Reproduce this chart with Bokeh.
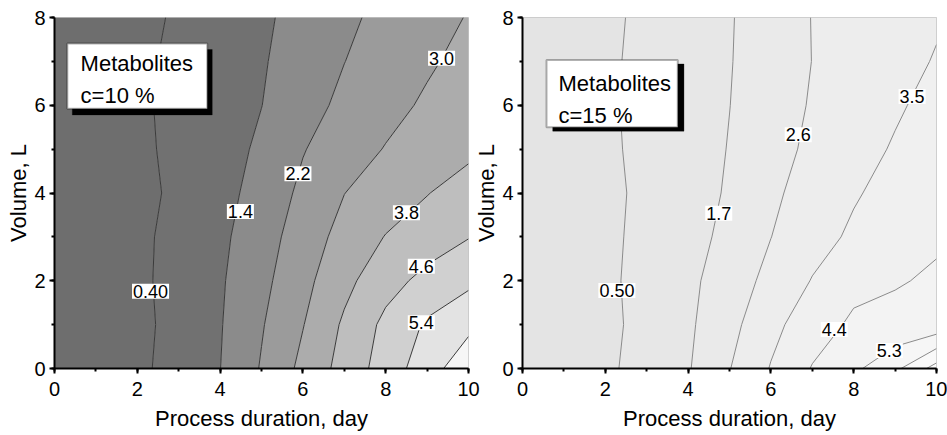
import numpy as np
from bokeh.plotting import figure
from bokeh.models import Range1d, SingleIntervalTicker, Label, BoxAnnotation
from bokeh.layouts import row
from bokeh.embed import file_html
from bokeh.resources import INLINE

# ---------------- data ----------------
days = [0, 1, 2, 3, 4, 5, 6, 7, 8, 9, 10]          # process duration, day
volume = [0, 1, 2, 3, 4, 5, 6, 7, 8]               # volume, L

# metabolites, c = 10 %  (rows: volume 0..8, columns: day 0..10)
z_c10 = [
    [0.00, 0.09, 0.18, 0.79, 1.39, 2.26, 3.20, 4.09, 4.96, 5.84, 6.74],
    [0.00, 0.07, 0.13, 0.74, 1.35, 2.14, 2.97, 3.92, 4.79, 5.51, 6.00],
    [0.00, 0.10, 0.19, 0.75, 1.31, 1.99, 2.77, 3.58, 4.31, 4.83, 5.23],
    [0.00, 0.09, 0.18, 0.71, 1.24, 1.85, 2.58, 3.27, 3.83, 4.20, 4.57],
    [0.00, 0.05, 0.10, 0.61, 1.12, 1.71, 2.36, 2.99, 3.38, 3.77, 4.16],
    [0.00, 0.10, 0.20, 0.63, 1.06, 1.54, 2.16, 2.61, 3.04, 3.33, 3.62],
    [0.00, 0.12, 0.25, 0.63, 1.01, 1.39, 1.91, 2.37, 2.74, 3.12, 3.50],
    [0.00, 0.11, 0.22, 0.59, 0.96, 1.33, 1.76, 2.19, 2.55, 2.89, 3.24],
    [0.00, 0.07, 0.14, 0.52, 0.90, 1.27, 1.66, 2.05, 2.40, 2.72, 3.04],
]
# metabolites, c = 15 %
z_c15 = [
    [0.00, 0.14, 0.28, 0.95, 1.63, 2.57, 3.55, 4.45, 5.11, 5.99, 7.45],
    [0.00, 0.10, 0.20, 0.88, 1.56, 2.33, 3.25, 3.99, 4.55, 4.62, 4.70],
    [0.00, 0.13, 0.27, 0.88, 1.50, 2.15, 2.85, 3.54, 4.15, 4.34, 4.50],
    [0.00, 0.12, 0.25, 0.81, 1.36, 1.95, 2.59, 3.18, 3.64, 3.97, 4.30],
    [0.00, 0.11, 0.23, 0.75, 1.27, 1.81, 2.44, 2.95, 3.42, 3.78, 4.12],
    [0.00, 0.15, 0.30, 0.78, 1.26, 1.74, 2.29, 2.77, 3.18, 3.58, 3.93],
    [0.00, 0.17, 0.34, 0.79, 1.25, 1.69, 2.20, 2.67, 3.03, 3.39, 3.76],
    [0.00, 0.16, 0.32, 0.77, 1.21, 1.66, 2.14, 2.61, 2.93, 3.25, 3.55],
    [0.00, 0.14, 0.28, 0.73, 1.18, 1.64, 2.14, 2.62, 2.89, 3.15, 3.42],
]

levels_c10 = [0.4, 1.4, 2.2, 3.0, 3.8, 4.6, 5.4, 6.2]
levels_c15 = [0.5, 1.7, 2.6, 3.5, 4.4, 5.3, 6.2, 7.1]

label_text_c10 = ["0.40", "1.4", "2.2", "3.0", "3.8", "4.6", "5.4"]
label_text_c15 = ["0.50", "1.7", "2.6", "3.5", "4.4", "5.3"]

legend_c10 = "Metabolites\nc=10 %"
legend_c15 = "Metabolites\nc=15 %"

x_title = "Process duration, day"
y_title = "Volume, L"

# ---------------- layout / style ----------------
label_pos_c10 = [(2.32, 1.76), (4.49, 3.58), (5.88, 4.44), (9.35, 7.07),
                 (8.50, 3.55), (8.86, 2.33), (8.86, 1.04)]
label_pos_c15 = [(2.28, 1.78), (4.74, 3.54), (6.66, 5.33), (9.41, 6.20),
                 (7.53, 0.89), (8.86, 0.41)]

fills_c10 = ["#6e6e6e", "#717171", "#8b8b8b", "#9b9b9b", "#acacac",
             "#bebebe", "#d0d0d0", "#e3e3e3", "#f6f6f6"]
fills_c15 = ["#e4e4e4", "#e7e7e7", "#eaeaea", "#ededed", "#f0f0f0",
             "#f3f3f3", "#f6f6f6", "#f9f9f9", "#fdfdfd"]

FONT = "Liberation Sans"


def panel(z, levels, fills, line_color, texts, positions, legend, box,
          shift, text_xy, width, border_left, border_right):
    p = figure(width=width, height=435, x_range=Range1d(0, 10),
               y_range=Range1d(0, 8), output_backend="svg",
               toolbar_location=None, min_border_left=border_left,
               min_border_right=border_right, min_border_top=17,
               min_border_bottom=67)
    p.background_fill_color = "white"
    p.border_fill_color = "white"
    p.outline_line_color = "#c4c4c4"
    p.xgrid.visible = False
    p.ygrid.visible = False

    fill_levels = [-1.0] + levels + [9.0]
    p.contour(days, volume, np.array(z), fill_levels, fill_color=fills,
              line_color=line_color, line_width=1)

    for ax in (p.xaxis[0], p.yaxis[0]):
        ax.ticker = SingleIntervalTicker(interval=2, num_minor_ticks=2)
        ax.axis_line_width = 2
        ax.axis_line_color = "black"
        ax.major_tick_line_width = 2
        ax.minor_tick_line_width = 2
        ax.major_tick_in = 0
        ax.major_tick_out = 5
        ax.minor_tick_in = 0
        ax.minor_tick_out = 3
        ax.major_label_text_font = FONT
        ax.major_label_text_font_size = "20px"
        ax.major_label_text_color = "black"
        ax.axis_label_text_font = FONT
        ax.axis_label_text_font_size = "22px"
        ax.axis_label_text_font_style = "normal"
        ax.axis_label_text_color = "black"
    p.xaxis.axis_label = x_title
    p.xaxis.major_label_standoff = 8
    p.xaxis.axis_label_standoff = 7
    p.yaxis.axis_label = y_title
    p.yaxis.major_label_standoff = 4
    p.yaxis.axis_label_standoff = 0

    for t, (lx, ly) in zip(texts, positions):
        p.add_layout(Label(x=lx, y=ly, text=t, text_align="center",
                           text_baseline="middle", text_font=FONT,
                           text_font_size="18px", text_color="black",
                           background_fill_color="white", padding=1))

    l, r, t, b = box
    dx, dy = shift
    p.add_layout(BoxAnnotation(left=l + dx, right=r + dx, top=t + dy,
                               bottom=b + dy, fill_color="black",
                               fill_alpha=1, line_color="black",
                               line_width=1))
    p.add_layout(BoxAnnotation(left=l, right=r, top=t, bottom=b,
                               fill_color="white", fill_alpha=1,
                               line_color="black", line_width=2))
    p.add_layout(Label(x=text_xy[0], y=text_xy[1], text=legend,
                       text_align="left", text_baseline="top",
                       text_font=FONT, text_font_size="22px",
                       text_color="black", text_line_height=1.3))
    return p


p1 = panel(z_c10, levels_c10, fills_c10, "#3a3a3a", label_text_c10,
           label_pos_c10, legend_c10, (0.31, 3.69, 7.41, 5.92),
           (0.12, -0.14), (0.63, 7.24), 480, 54, 12)
p2 = panel(z_c15, levels_c15, fills_c15, "#8a8a8a", label_text_c15,
           label_pos_c15, legend_c15, (0.58, 3.75, 7.03, 5.50),
           (0.15, -0.09), (0.87, 6.79), 479, 54, 11)
# let the second panel's left border overlap the first panel's right border
p2.border_fill_alpha = 0
p2.margin = (0, 0, 0, -12)

p = row(p1, p2)
open("out.html", "w").write(file_html(p, INLINE))
